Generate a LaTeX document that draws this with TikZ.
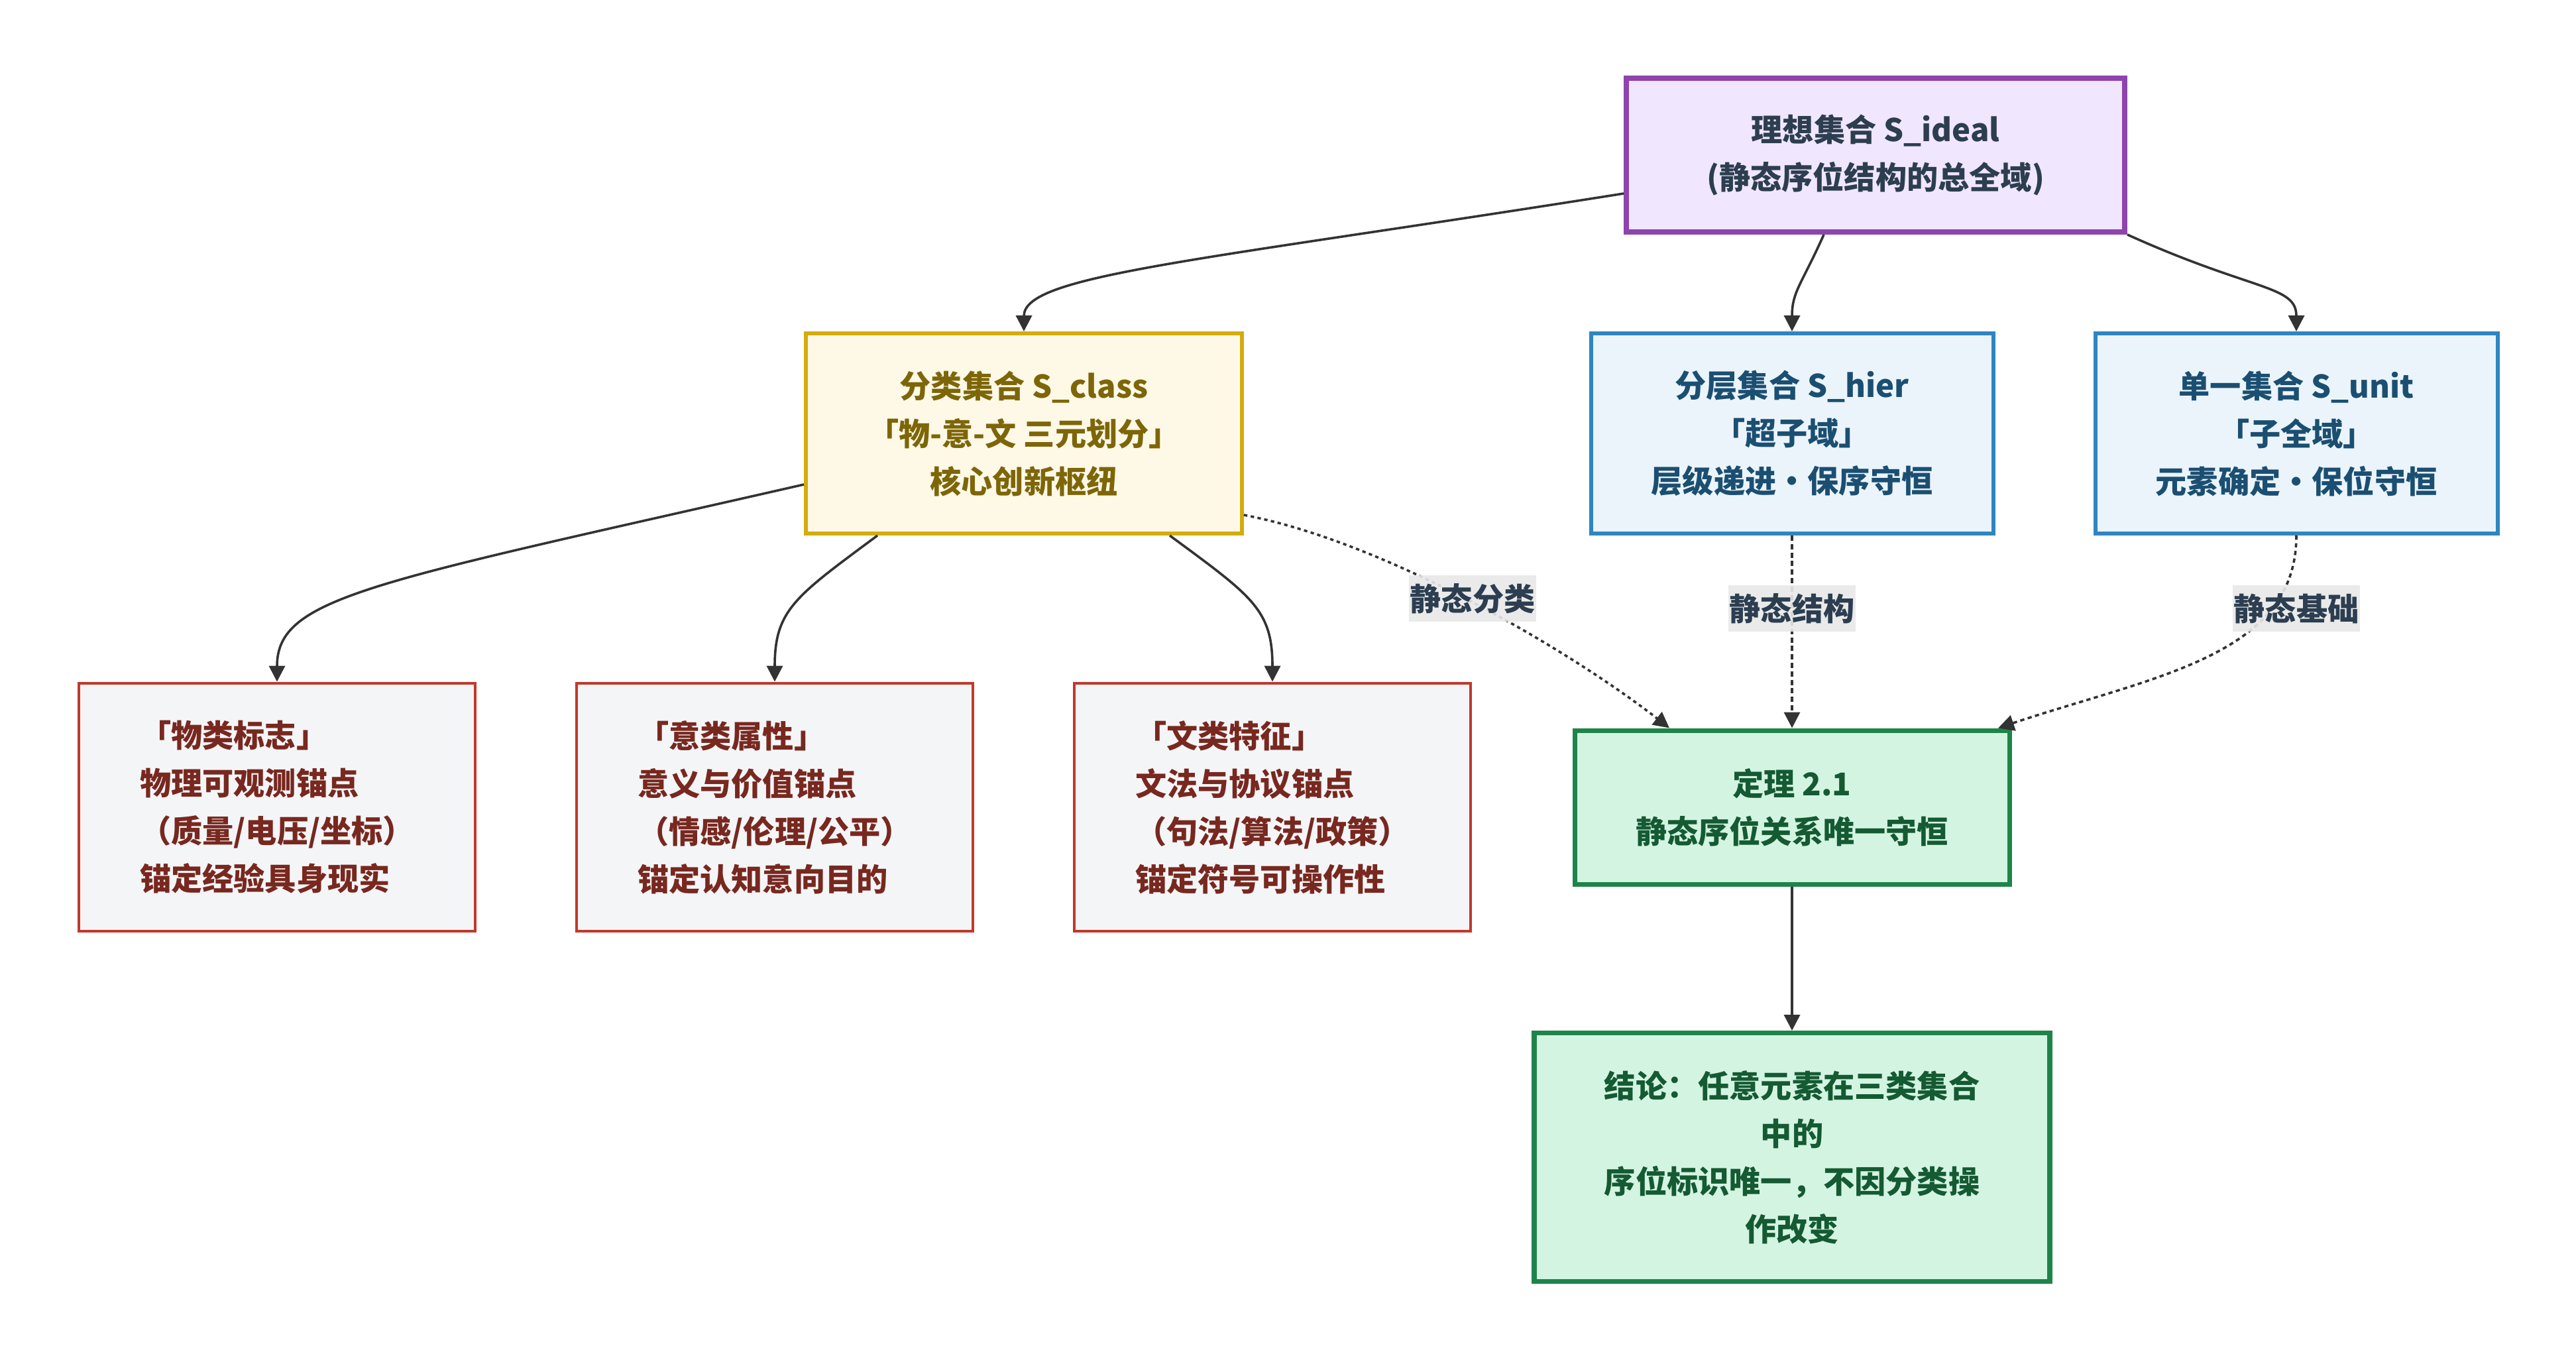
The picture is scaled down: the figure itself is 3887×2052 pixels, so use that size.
\documentclass[tikz,border=0pt]{standalone}
\usepackage{fontspec}
\setmainfont{Noto Sans CJK SC}
\usetikzlibrary{arrows.meta,calc}
\definecolor{idealbd}{HTML}{8E44AD}
\definecolor{idealfill}{HTML}{F0E6FE}
\definecolor{idealtxt}{HTML}{2C3E50}
\definecolor{classbd}{HTML}{D4AC0D}
\definecolor{classfill}{HTML}{FEF8E7}
\definecolor{classtxt}{HTML}{7D6608}
\definecolor{setbd}{HTML}{2E86C1}
\definecolor{setfill}{HTML}{EBF4FB}
\definecolor{settxt}{HTML}{1B4F72}
\definecolor{anchbd}{HTML}{C0392B}
\definecolor{anchfill}{HTML}{F4F5F7}
\definecolor{anchtxt}{HTML}{78281F}
\definecolor{thmbd}{HTML}{1E8449}
\definecolor{thmfill}{HTML}{D4F4E2}
\definecolor{thmtxt}{HTML}{145A32}
\definecolor{lblbg}{HTML}{E8E8E8}
\definecolor{lbltxt}{HTML}{2C3E50}
\definecolor{edgecol}{HTML}{333333}
\begin{document}
\begin{tikzpicture}[x=0.25pt,y=-0.25pt,
  box/.style={rectangle, draw, align=center, inner sep=0pt,
    font=\fontsize{11.8}{18}\selectfont\bfseries},
  idealbox/.style={box, draw=idealbd, fill=idealfill, text=idealtxt, line width=2pt,
    minimum width=188pt, minimum height=58pt},
  classbox/.style={box, draw=classbd, fill=classfill, text=classtxt, line width=1.5pt,
    minimum width=164.5pt, minimum height=75.5pt},
  setbox/.style={box, draw=setbd, fill=setfill, text=settxt, line width=1.5pt,
    minimum width=151.75pt, minimum height=75.5pt},
  anchbox/.style={box, align=left, draw=anchbd, fill=anchfill, text=anchtxt, line width=1.1pt,
    minimum width=149.4pt, minimum height=93.6pt},
  thmbox/.style={box, draw=thmbd, fill=thmfill, text=thmtxt, line width=1.75pt,
    minimum width=164pt, minimum height=58pt},
  conclbox/.style={box, draw=thmbd, fill=thmfill, text=thmtxt, line width=1.8pt,
    minimum width=194.5pt, minimum height=93.7pt},
  lbl/.style={rectangle, fill=lblbg, fill opacity=0.9, text opacity=1, text=lbltxt,
    inner xsep=0.5pt, inner ysep=0pt, minimum height=17.5pt,
    font=\fontsize{11.8}{18}\selectfont\bfseries},
  edge/.style={draw=edgecol, line width=0.9pt, -{Triangle[length=6pt,width=6pt]}},
  dotedge/.style={edge, dash pattern=on 1.3pt off 1.3pt},
  dashedge/.style={edge, dash pattern=on 2pt off 1.2pt},
  mixedge/.style={edge, dash pattern=on 1.6pt off 1.3pt}
]
\useasboundingbox (0,0) rectangle (3887,2052);

% nodes
\node[idealbox] (ideal) at (2830,234) {理想集合 S\_ideal\\(静态序位结构的总全域)};
\node[classbox] (class) at (1545,654) {分类集合 S\_class\\「物-意-文 三元划分」\\核心创新枢纽};
\node[setbox] (hier) at (2704,654) {分层集合 S\_hier\\「超子域」\\层级递进·保序守恒};
\node[setbox] (unit) at (3465,654) {单一集合 S\_unit\\「子全域」\\元素确定·保位守恒};
\node[anchbox] (wu) at (418,1218) {「物类标志」\\物理可观测锚点\\（质量/电压/坐标）\\锚定经验具身现实};
\node[anchbox] (yi) at (1169,1218) {「意类属性」\\意义与价值锚点\\（情感/伦理/公平）\\锚定认知意向目的};
\node[anchbox] (wen) at (1920,1218) {「文类特征」\\文法与协议锚点\\（句法/算法/政策）\\锚定符号可操作性};
\node[thmbox] (thm) at (2704,1218) {定理 2.1\\静态序位关系唯一守恒};
\node[conclbox] (concl) at (2704,1746) {结论：任意元素在三类集合\\中的\\序位标识唯一，不因分类操\\作改变};

% solid connectors
\draw[edge] ($(ideal.west)+(0,58)$) .. controls (1800,395) and (1545,415) .. (class.north);
\draw[edge] ($(ideal.south)+(-78,0)$) .. controls (2718,430) and (2704,440) .. (hier.north);
\draw[edge] (ideal.south east) .. controls (3400,440) and (3465,430) .. (unit.north);
\draw[edge] ($(class.west)+(0,77)$) .. controls (560,880) and (418,900) .. (wu.north);
\draw[edge] ($(class.south)+(-221,0)$) .. controls (1200,900) and (1169,920) .. (yi.north);
\draw[edge] ($(class.south)+(220,0)$) .. controls (1890,900) and (1920,920) .. (wen.north);
\draw[edge] (thm.south) -- (concl.north);

% dashed connectors with labels
\draw[dotedge] ($(class.east)+(0,123)$) .. controls (2100,820) and (2380,990) .. ($(thm.north)+(-185,0)$)
  node[lbl, solid] (l1) at (2222,903) {静态分类};
\draw[dashedge] (hier.south) -- (thm.north)
  node[lbl, solid] (l2) at (2704,918) {静态结构};
\draw[mixedge] (unit.south) .. controls (3465,990) and (3250,1020) .. ($(thm.north)+(311,0)$)
  node[lbl, solid] (l3) at (3465,918) {静态基础};
\end{tikzpicture}
\end{document}
